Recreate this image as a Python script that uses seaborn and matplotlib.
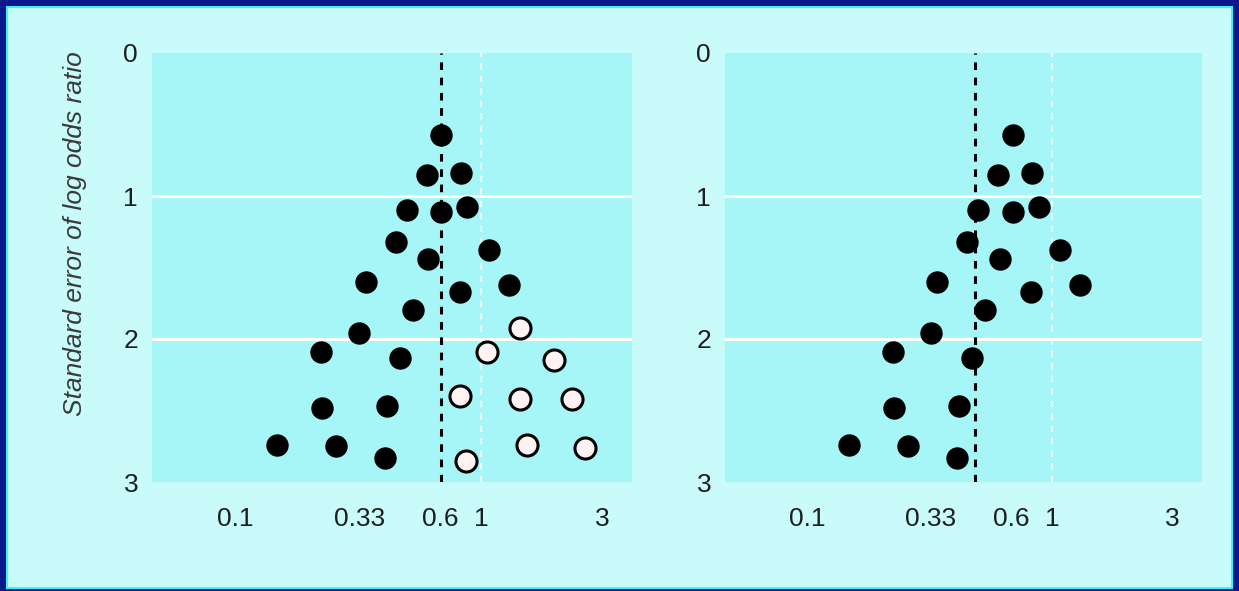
import matplotlib
matplotlib.use('Agg')
import matplotlib.pyplot as plt
import matplotlib.patches as mpatches
import seaborn as sns
import pandas as pd

sns.set_style("white")
plt.rcParams['font.family'] = ['Liberation Sans Narrow', 'Liberation Sans', 'DejaVu Sans']

# 研究的比值比和标准误
closed_or = [0.69, 0.60, 0.83, 0.50, 0.69, 0.88, 0.45, 0.61, 1.08, 0.34, 0.82,
             1.30, 0.53, 0.32, 0.224, 0.47, 0.226, 0.415, 0.148, 0.257, 0.407]
closed_se = [0.57, 0.85, 0.84, 1.10, 1.11, 1.08, 1.32, 1.44, 1.38, 1.60, 1.67,
             1.62, 1.80, 1.96, 2.09, 2.13, 2.48, 2.47, 2.74, 2.75, 2.83]
# 缺失的研究（空心圆，仅左图）
open_or = [1.44, 1.06, 1.98, 0.82, 1.44, 2.34, 1.54, 2.65, 0.87]
open_se = [1.92, 2.09, 2.15, 2.40, 2.42, 2.42, 2.74, 2.76, 2.85]

pooled = [0.69, 0.486]   # 左图、右图的合并估计（虚线）
tick_pos = [0.1, 0.32, 0.68, 1, 3.1]
tick_lab = ['0.1', '0.33', '0.6', '1', '3']
y_ticks = [0, 1, 2, 3]

closed = pd.DataFrame({'OR': closed_or, 'SE': closed_se})
missing = pd.DataFrame({'OR': open_or, 'SE': open_se})

navy = '#0a1889'
outer = '#c9fbfb'
inner = '#a6f6f8'

fig = plt.figure(figsize=(12.39, 5.91), dpi=100, facecolor=navy)
fig.patches.append(mpatches.Rectangle((7 / 1239, 3 / 591), 1225 / 1239, 581 / 591,
                                      transform=fig.transFigure, facecolor=outer,
                                      edgecolor='#40f0f8', linewidth=1.5, zorder=-5))

ax1 = fig.add_axes([152 / 1239, 1 - 482 / 591, 480 / 1239, 429 / 591])
ax2 = fig.add_axes([725 / 1239, 1 - 482 / 591, 477 / 1239, 429 / 591])

# 左图额外画出缺失的研究（空心圆）
sns.scatterplot(data=missing, x='OR', y='SE', ax=ax1, s=230, color='#fff2f2',
                edgecolor='black', linewidth=2.2, zorder=3)

for i, ax in enumerate([ax1, ax2]):
    ax.set_facecolor(inner)
    ax.set_xscale('log')
    ax.set_xlim(0.046, 4.1)
    ax.set_ylim(3, 0)
    for y in [1, 2]:
        ax.axhline(y, color='white', lw=2.2, zorder=1)
    ax.axvline(1, color='white', lw=1.5, ls=(0, (3, 3)), alpha=0.8, zorder=1)
    ax.axvline(pooled[i], color='black', lw=2.2, ls=(0, (2.5, 2.5)), zorder=2)
    sns.scatterplot(data=closed, x='OR', y='SE', ax=ax, s=260, color='black',
                    edgecolor='black', linewidth=0, zorder=3)
    ax.set_xticks(tick_pos)
    ax.set_xticklabels(tick_lab)
    ax.set_xticks([], minor=True)
    ax.set_yticks(y_ticks)
    ax.tick_params(axis='both', length=0, labelsize=19, colors='#1e1e1e')
    ax.tick_params(axis='x', pad=18)
    ax.tick_params(axis='y', pad=10)
    for sp in ax.spines.values():
        sp.set_visible(False)
    ax.set_xlabel('')
    ax.set_ylabel('')

fig.text(75 / 1239, 1 - 234 / 591, 'Standard error of log odds ratio',
         rotation=90, ha='center', va='center', fontsize=19, style='italic',
         color='#3a3a3a', family=['Liberation Sans', 'DejaVu Sans'])

plt.savefig('out.png', dpi=100, facecolor=navy)
